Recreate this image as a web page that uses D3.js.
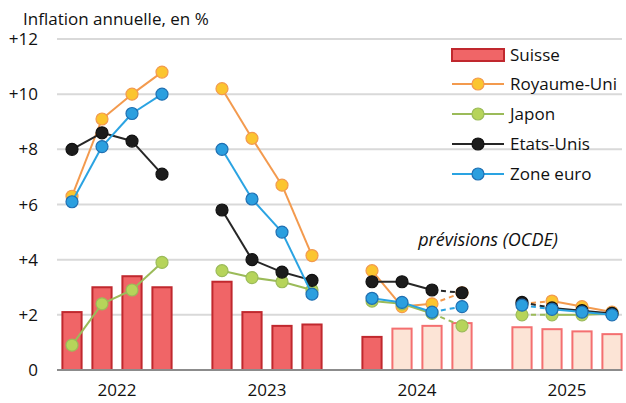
<!DOCTYPE html>
<html>
<head>
<meta charset="utf-8">
<script src="https://cdn.jsdelivr.net/npm/d3@7"></script>
<style>
  body { margin: 0; background: #fff; }
  svg text { font-family: "Open Sans", "Liberation Sans", sans-serif; fill: #111; }
</style>
</head>
<body>
<svg id="chart" width="626" height="403"></svg>
<script>
// données
var years = ["2022", "2023", "2024", "2025"];
var quarters = ["T1", "T2", "T3", "T4"];
var yTicks = [0, 2, 4, 6, 8, 10, 12];

// Suisse (barres), 16 trimestres
var suisse = [2.1, 3.0, 3.4, 3.0,  3.2, 2.1, 1.6, 1.65,  1.2, 1.5, 1.6, 1.7,  1.55, 1.48, 1.4, 1.3];
var firstForecast = 9; // premier trimestre prévu (barres claires)

var royaumeUni = [6.3, 9.1, 10.0, 10.8,  10.2, 8.4, 6.7, 4.15,  3.6, 2.3, 2.4, 2.8,  2.4, 2.5, 2.3, 2.1];
var japon      = [0.9, 2.4, 2.9, 3.9,    3.6, 3.35, 3.2, 2.9,   2.5, 2.4, 2.05, 1.6,  2.0, 2.0, 2.0, 2.05];
var etatsUnis  = [8.0, 8.6, 8.3, 7.1,    5.8, 4.0, 3.55, 3.25,  3.2, 3.2, 2.9, 2.8,   2.45, 2.25, 2.15, 2.05];
var zoneEuro   = [6.1, 8.1, 9.3, 10.0,   8.0, 6.2, 5.0, 2.75,   2.6, 2.45, 2.1, 2.3,  2.35, 2.2, 2.1, 2.0];

var dashedFrom = [10, 12]; // segments i -> i+1 en pointillés

var series = [
  {name: "Royaume-Uni", values: royaumeUni, line: "#f39a4e", fill: "#fbc52f", stroke: "#f39a4e"},
  {name: "Japon",       values: japon,      line: "#9bbb59", fill: "#b6d45a", stroke: "#9bbb59"},
  {name: "Etats-Unis",  values: etatsUnis,  line: "#262626", fill: "#1c1c1c", stroke: "#111111"},
  {name: "Zone euro",   values: zoneEuro,   line: "#2aa3e2", fill: "#2b9fdf", stroke: "#1f6fb2"}
];

var svg = d3.select("#chart");

var x0 = d3.scaleBand().domain(years).range([42, 642]);
var x1 = d3.scaleBand().domain(quarters).range([15, 135]);
var y = d3.scaleLinear().domain([0, 12]).range([370, 39]);
var barW = x1.bandwidth() * 0.64;

function cx(i) {
  return x0(years[Math.floor(i / 4)]) + x1(quarters[i % 4]) + x1.bandwidth() / 2;
}

// grille
svg.append("g").selectAll("line")
  .data(yTicks.filter(d => d > 0))
  .enter().append("line")
  .attr("x1", 57).attr("x2", 622)
  .attr("y1", d => y(d)).attr("y2", d => y(d))
  .style("stroke", "#d9d9d9").style("stroke-width", 2);

// étiquettes axe y
svg.append("g").selectAll("text")
  .data(yTicks)
  .enter().append("text")
  .attr("x", 38).attr("y", d => y(d) + 6)
  .attr("text-anchor", "end")
  .style("font-size", "17px")
  .text(d => d === 0 ? "0" : "+" + d);

svg.append("text")
  .attr("x", 23).attr("y", 25)
  .style("font-size", "17px")
  .text("Inflation annuelle, en %");

// barres Suisse
svg.append("g").selectAll("rect")
  .data(suisse)
  .enter().append("rect")
  .attr("x", (d, i) => cx(i) - barW / 2)
  .attr("width", barW)
  .attr("y", d => y(d))
  .attr("height", d => y(0) - y(d))
  .style("fill", (d, i) => i >= firstForecast ? "#fce4d6" : "#f06567")
  .style("stroke", (d, i) => i >= firstForecast ? "#f46f70" : "#c0282e")
  .style("stroke-width", 2);

// axe 0
svg.append("line")
  .attr("x1", 57).attr("x2", 622)
  .attr("y1", y(0)).attr("y2", y(0))
  .style("stroke", "#8c8c8c").style("stroke-width", 2);

// années
svg.append("g").selectAll("text")
  .data(years)
  .enter().append("text")
  .attr("x", d => x0(d) + x0.bandwidth() / 2)
  .attr("y", 396)
  .attr("text-anchor", "middle")
  .style("font-size", "17px")
  .text(d => d);

// courbes
series.forEach(s => {
  var g = svg.append("g");
  var segs = [];
  s.values.forEach((v, i) => {
    if (i % 4 < 3) segs.push({a: i, dashed: dashedFrom.indexOf(i) >= 0});
  });
  g.selectAll("line")
    .data(segs)
    .enter().append("line")
    .attr("x1", d => cx(d.a)).attr("y1", d => y(s.values[d.a]))
    .attr("x2", d => cx(d.a + 1)).attr("y2", d => y(s.values[d.a + 1]))
    .style("stroke", s.line).style("stroke-width", 2)
    .style("stroke-dasharray", d => d.dashed ? "5,4" : null);
  g.selectAll("circle")
    .data(s.values)
    .enter().append("circle")
    .attr("cx", (d, i) => cx(i)).attr("cy", d => y(d))
    .attr("r", 6)
    .style("fill", s.fill).style("stroke", s.stroke).style("stroke-width", 1.2);
});

svg.append("text")
  .attr("x", 488).attr("y", 246)
  .attr("text-anchor", "middle")
  .style("font-size", "18px").style("font-style", "italic")
  .text("prévisions (OCDE)");

// légende
var leg = svg.append("g").attr("transform", "translate(452,55)");
leg.append("rect")
  .attr("x", 0).attr("y", -6).attr("width", 52).attr("height", 12)
  .style("fill", "#f06567").style("stroke", "#c0282e").style("stroke-width", 2);
leg.append("text").attr("x", 58).attr("y", 6).style("font-size", "17px").text("Suisse");
series.forEach((s, k) => {
  var gy = 30 * (k + 1) - 1;
  leg.append("line").attr("x1", 0).attr("x2", 52).attr("y1", gy).attr("y2", gy)
    .style("stroke", s.line).style("stroke-width", 2);
  leg.append("circle").attr("cx", 26).attr("cy", gy).attr("r", 6)
    .style("fill", s.fill).style("stroke", s.stroke).style("stroke-width", 1.2);
  leg.append("text").attr("x", 58).attr("y", gy + 6).style("font-size", "17px").text(s.name);
});
</script>
</body>
</html>
